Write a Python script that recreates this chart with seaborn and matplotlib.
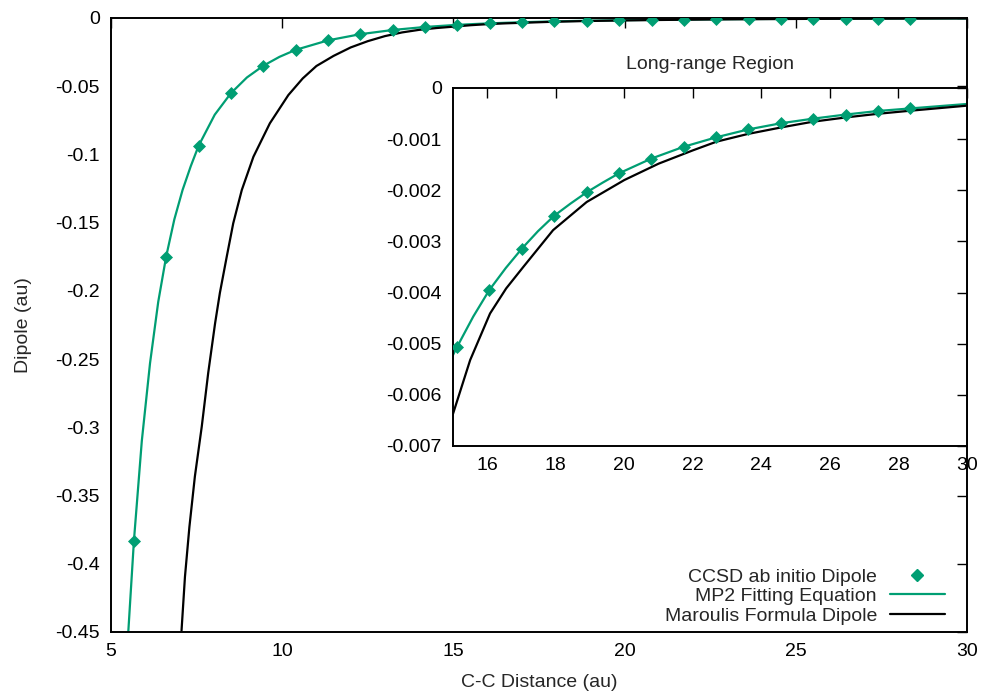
import matplotlib
matplotlib.use("Agg")
import matplotlib.pyplot as plt
import matplotlib.ticker as mticker
import seaborn as sns
from matplotlib.lines import Line2D

# CCSD ab initio points (C-C distance in au, dipole in au)
ccsd_x = [5.67, 6.61, 7.56, 8.50, 9.45, 10.39, 11.34, 12.28, 13.23, 14.17,
          15.12, 16.06, 17.01, 17.95, 18.90, 19.84, 20.79, 21.73, 22.68,
          23.62, 24.57, 25.51, 26.46, 27.40, 28.35]
ccsd_y = [-0.383, -0.175, -0.0936, -0.0552, -0.035, -0.0234, -0.0164, -0.0119,
          -0.0088, -0.0066, -0.00506, -0.00395, -0.00314, -0.0025, -0.00204,
          -0.00167, -0.00138, -0.00115, -0.000965, -0.00081, -0.00069,
          -0.0006, -0.00052, -0.00045, -0.0004]

# MP2 fitting curve
mp2_x = [5.50, 5.67, 5.90, 6.14, 6.38, 6.61, 6.85, 7.09, 7.33, 7.56, 8.03,
         8.50, 8.97, 9.45, 9.92, 10.39, 11.34, 12.28, 13.23, 14.17, 15.0,
         15.12, 15.59, 16.06, 16.54, 17.01, 17.48, 17.95, 18.43, 18.90,
         19.37, 19.84, 20.79, 21.73, 22.68, 23.62, 24.57, 25.51, 26.46,
         27.40, 28.35, 30.0]
mp2_y = [-0.452, -0.383, -0.310, -0.253, -0.208, -0.175, -0.1476, -0.1261,
         -0.1086, -0.0936, -0.0709, -0.0552, -0.0436, -0.035, -0.0285,
         -0.0234, -0.0164, -0.0119, -0.0088, -0.0066, -0.00522, -0.00506,
         -0.00447, -0.00395, -0.00352, -0.00314, -0.0028, -0.0025, -0.00226,
         -0.00204, -0.00185, -0.00167, -0.00138, -0.00115, -0.000965,
         -0.00081, -0.00069, -0.0006, -0.00052, -0.00045, -0.0004, -0.000313]

# Maroulis formula curve
mar_x = [7.06, 7.16, 7.29, 7.45, 7.65, 7.84, 8.04, 8.18, 8.38, 8.57, 8.82,
         9.16, 9.64, 10.18, 10.60, 11.0, 11.5, 12.0, 12.5, 13.0, 13.5, 14.0,
         14.5, 15.0, 15.5, 16.08, 16.55, 17.05, 17.92, 18.9, 20.0, 21.0,
         22.0, 22.69, 23.6, 24.59, 25.5, 26.49, 27.4, 28.36, 30.0]
mar_y = [-0.449, -0.4096, -0.373, -0.336, -0.2996, -0.260, -0.2238, -0.2015,
         -0.175, -0.1505, -0.1261, -0.1017, -0.0772, -0.0565, -0.0443,
         -0.0352, -0.0278, -0.0216, -0.0170, -0.0133, -0.0106, -0.0087,
         -0.0074, -0.00637, -0.00532, -0.00441, -0.00392, -0.0035, -0.00278,
         -0.00223, -0.0018, -0.00148, -0.00122, -0.00105, -0.0009,
         -0.00077, -0.00066, -0.000574, -0.000505, -0.000444, -0.000346]

green = '#009e73'
fs = 14

sns.set_style('white')
plt.rcParams['font.family'] = ['Liberation Sans', 'DejaVu Sans']
plt.rcParams['axes.unicode_minus'] = False

fig = plt.figure(figsize=(9.84, 6.91), dpi=100)
ax = fig.add_axes([0.1128, 0.0854, 0.8699, 0.8886])
ins = fig.add_axes([0.4604, 0.3546, 0.5223, 0.5181])
ins.set_zorder(5)


def draw(a):
    sns.lineplot(x=mp2_x, y=mp2_y, ax=a, color=green, lw=1.6, sort=False,
                 estimator=None)
    sns.lineplot(x=mar_x, y=mar_y, ax=a, color='black', lw=1.6, sort=False,
                 estimator=None)
    sns.scatterplot(x=ccsd_x, y=ccsd_y, ax=a, color=green, marker='D', s=44,
                    linewidth=0, zorder=4)


def style(a):
    for sp in a.spines.values():
        sp.set_visible(True)
        sp.set_color('black')
        sp.set_linewidth(1.4)
    a.tick_params(direction='in', length=7, width=1, top=True, right=True,
                  labelsize=fs, colors='black', pad=8)
    fmt = mticker.FuncFormatter(lambda v, p: '%g' % round(v, 6))
    a.yaxis.set_major_formatter(fmt)
    a.xaxis.set_major_formatter(fmt)
    a.set_xlabel('')
    a.set_ylabel('')


draw(ax)
ax.set_xlim(5, 30)
ax.set_ylim(-0.45, 0)
ax.set_xticks([5, 10, 15, 20, 25, 30])
ax.set_yticks([0, -0.05, -0.1, -0.15, -0.2, -0.25, -0.3, -0.35, -0.4, -0.45])
style(ax)
ax.set_xlabel('C-C Distance (au)', fontsize=fs, labelpad=10)
ax.set_ylabel('Dipole (au)', fontsize=fs, labelpad=17)

draw(ins)
ins.set_facecolor('white')
ins.set_xlim(15, 30)
ins.set_ylim(-0.007, 0)
ins.set_xticks([16, 18, 20, 22, 24, 26, 28, 30])
ins.set_yticks([0, -0.001, -0.002, -0.003, -0.004, -0.005, -0.006, -0.007])
style(ins)
ins.set_title('Long-range Region', fontsize=fs, pad=14)

handles = [
    Line2D([], [], color=green, marker='D', markersize=6.6, lw=0),
    Line2D([], [], color=green, lw=1.6),
    Line2D([], [], color='black', lw=1.6),
]
labels = ['CCSD ab initio Dipole', 'MP2 Fitting Equation',
          'Maroulis Formula Dipole']
ax.legend(handles, labels, loc='lower right', bbox_to_anchor=(0.9743, 0.012),
          frameon=False, markerfirst=False, fontsize=fs, handlelength=2.83,
          labelspacing=0.1, handletextpad=0.67, borderpad=0,
          borderaxespad=0)

fig.savefig('out.png', dpi=100)
plt.close(fig)
